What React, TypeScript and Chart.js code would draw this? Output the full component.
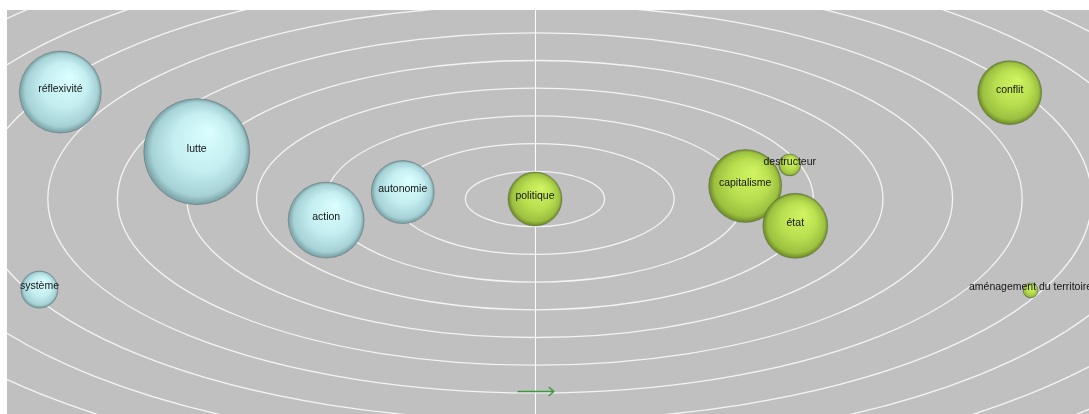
import React, { useEffect, useRef } from "react";
import { Chart, registerables } from "chart.js";

Chart.register(...registerables);

// Terms and their positions (x: horizontal axis units, y: vertical axis units)
const terms = [
  "réflexivité",
  "lutte",
  "action",
  "autonomie",
  "système",
  "politique",
  "capitalisme",
  "destructeur",
  "état",
  "conflit",
  "aménagement du territoire",
];
const xValues = [-6.82, -4.86, -3.0, -1.9, -7.12, 0, 3.02, 3.66, 3.74, 6.82, 7.12];
const yValues = [3.86, 1.71, -0.76, 0.25, -3.27, 0, 0.47, 1.23, -0.97, 3.84, -3.3];
const sizes = [41, 53, 38, 31.5, 18.5, 27, 36.5, 11, 32.5, 32, 7.5];
const groups = ["left", "left", "left", "left", "left", "center", "right", "right", "right", "right", "right"];
const rings = [1, 2, 3, 4, 5, 6, 7, 8, 9, 10, 11, 12, 13];
const arrowX = [-0.25, 0.27];
const arrowY = -6.93;

const palette: Record<string, string[]> = {
  left: ["#dcffff", "#c4eef0", "#a6d2d6", "#789ea2"],
  center: ["#d2f462", "#b9df50", "#9cc040", "#6a8826"],
  right: ["#d2f462", "#b9df50", "#9cc040", "#6a8826"],
};

const backgroundPlugin = {
  id: "orbitBackground",
  beforeDatasetsDraw(chart: any) {
    const { ctx, chartArea, scales } = chart;
    const xs = scales.x;
    const ys = scales.y;
    const cx = xs.getPixelForValue(0);
    const cy = ys.getPixelForValue(0);
    ctx.save();
    ctx.beginPath();
    ctx.rect(chartArea.left, chartArea.top, chartArea.right - chartArea.left, chartArea.bottom - chartArea.top);
    ctx.clip();
    ctx.fillStyle = "#c0c0c0";
    ctx.fillRect(chartArea.left, chartArea.top, chartArea.right - chartArea.left, chartArea.bottom - chartArea.top);
    ctx.strokeStyle = "#f4f4f4";
    ctx.lineWidth = 1.3;
    for (const n of rings) {
      const rx = Math.abs(xs.getPixelForValue(n) - cx);
      const ry = Math.abs(ys.getPixelForValue(n) - cy);
      ctx.beginPath();
      ctx.ellipse(cx, cy, rx, ry, 0, 0, Math.PI * 2);
      ctx.stroke();
    }
    ctx.strokeStyle = "#ffffff";
    ctx.lineWidth = 1;
    ctx.beginPath();
    ctx.moveTo(Math.round(cx) + 0.5, chartArea.top);
    ctx.lineTo(Math.round(cx) + 0.5, chartArea.bottom);
    ctx.stroke();
    // arrow
    const ax0 = xs.getPixelForValue(arrowX[0]);
    const ax1 = xs.getPixelForValue(arrowX[1]);
    const ay = Math.round(ys.getPixelForValue(arrowY)) + 0.5;
    ctx.strokeStyle = "#3a9a3a";
    ctx.lineWidth = 1.4;
    ctx.beginPath();
    ctx.moveTo(ax0, ay);
    ctx.lineTo(ax1, ay);
    ctx.moveTo(ax1 - 5, ay - 4.5);
    ctx.lineTo(ax1, ay);
    ctx.lineTo(ax1 - 5, ay + 4.5);
    ctx.stroke();
    ctx.restore();
  },
};

const labelPlugin = {
  id: "bubbleLabels",
  afterDatasetsDraw(chart: any) {
    const { ctx } = chart;
    const meta = chart.getDatasetMeta(0);
    ctx.save();
    ctx.font = "10.5px 'Liberation Sans', Arial, sans-serif";
    ctx.fillStyle = "#141414";
    ctx.textAlign = "center";
    ctx.textBaseline = "middle";
    meta.data.forEach((el: any, i: number) => {
      ctx.fillText(terms[i], el.x, el.y - 3);
    });
    ctx.restore();
  },
};

function sphereFill(context: any) {
  const i = context.dataIndex;
  const cols = palette[groups[i]] || palette.left;
  const chart = context.chart;
  const xs = chart.scales && chart.scales.x;
  const ys = chart.scales && chart.scales.y;
  if (!xs || !ys || i === undefined) return cols[1];
  const px = xs.getPixelForValue(xValues[i]);
  const py = ys.getPixelForValue(yValues[i]);
  const r = sizes[i];
  if (!Number.isFinite(px) || !Number.isFinite(py)) return cols[1];
  const g = chart.ctx.createRadialGradient(px + r * 0.25, py - r * 0.4, 0, px, py, r);
  g.addColorStop(0, cols[0]);
  g.addColorStop(0.55, cols[1]);
  g.addColorStop(0.88, cols[2]);
  g.addColorStop(1, cols[3]);
  return g;
}

export default function App() {
  const canvasRef = useRef<HTMLCanvasElement | null>(null);

  useEffect(() => {
    if (!canvasRef.current) return;
    const chart = new Chart(canvasRef.current, {
      type: "bubble",
      data: {
        datasets: [
          {
            data: terms.map((_, i) => ({ x: xValues[i], y: yValues[i], r: sizes[i] })),
            backgroundColor: sphereFill as any,
            borderColor: "rgba(70,85,85,0.45)",
            borderWidth: 0.8,
            clip: false as any,
          },
        ],
      },
      options: {
        responsive: false,
        animation: false,
        events: [],
        layout: { padding: 0, autoPadding: false } as any,
        plugins: {
          legend: { display: false },
          tooltip: { enabled: false },
        },
        scales: {
          x: { type: "linear", display: false, min: -7.586, max: 7.96 },
          y: { type: "linear", display: false, min: -7.762, max: 6.823 },
        },
      },
      plugins: [backgroundPlugin, labelPlugin],
    });
    return () => chart.destroy();
  }, []);

  return (
    <div style={{ position: "absolute", left: 7, top: 10, width: 1082, height: 404 }}>
      <canvas ref={canvasRef} width={1082} height={404} style={{ display: "block" }} />
    </div>
  );
}
